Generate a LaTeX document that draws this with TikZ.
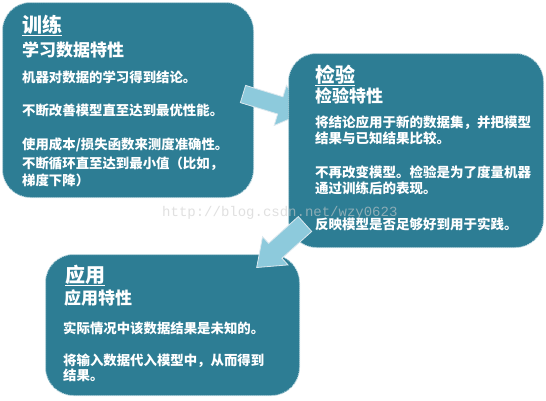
\documentclass[tikz,border=0pt]{standalone}
\usepackage{fontspec}
\newfontfamily\cjk{Noto Sans CJK SC}
\newfontfamily\wmfont{Liberation Mono}
\definecolor{boxfill}{RGB}{45,125,148}
\definecolor{boxedge}{RGB}{185,214,222}
\definecolor{arrowfill}{RGB}{141,202,220}
\definecolor{arrowedge}{RGB}{220,232,238}
\begin{document}
\begin{tikzpicture}[x=1pt,y=-1pt,
  panel/.style={fill=boxfill, draw=boxedge, densely dotted, line width=1pt, rounded corners=28pt, anchor=north west, inner sep=0pt},
  blockarrow/.style={fill=arrowfill, draw=arrowedge, line width=0.8pt, line join=miter},
  ttl/.style={anchor=base west, text=white, inner sep=0pt, font=\cjk\bfseries\fontsize{20}{24}\selectfont},
  sub/.style={anchor=base west, text=white, inner sep=0pt, font=\cjk\bfseries\fontsize{17}{20}\selectfont},
  body/.style={anchor=base west, text=white, inner sep=0pt, font=\cjk\bfseries\fontsize{13.4}{16}\selectfont},
  bodyb/.style={anchor=base west, text=white, inner sep=0pt, font=\cjk\bfseries\fontsize{13.5}{16}\selectfont},
  uline/.style={draw=white, line width=1.3pt},
  wm/.style={anchor=base west, inner sep=0pt, text=gray!40, text opacity=0.6, font=\wmfont\fontsize{14}{16}\selectfont}]
\useasboundingbox (0,0) rectangle (546,400);
\fill[white] (0,0) rectangle (546,400);

% box 1
\node[panel, minimum width=251pt, minimum height=195pt] (train) at (2,2) {};
% arrow 1 (above box 1, below box 2)
\begin{scope}[shift={(243,94)}, rotate=-17]
  \draw[blockarrow] (0,-9) -- (39,-9) -- (39,-21) -- (64,0) -- (39,21) -- (39,9) -- (0,9) -- cycle;
\end{scope}
% box 2
\node[panel, minimum width=255pt, minimum height=194pt] (test) at (288,53) {};
% box 3
\node[panel, minimum width=254pt, minimum height=141pt] (apply) at (45,254) {};
% arrow 2
\begin{scope}[shift={(305,224)}, rotate=222]
  \draw[blockarrow] (0,-10) -- (40,-10) -- (40,-19) -- (65,0) -- (40,19) -- (40,10) -- (0,10) -- cycle;
\end{scope}

% watermark
\node[wm] (wmark) at (162,216) {http://blog.csdn.net/wzy0623};

% texts box 1
\node[ttl] (t1) at (22,32) {训练};
\draw[uline] ([yshift=-3.5pt]t1.base west) -- ([yshift=-3.5pt]t1.base east);
\node[sub] (s1) at (22,56) {学习数据特性};
\node[body] (b11) at (22,82) {机器对数据的学习得到结论。};
\node[body] (b12) at (22,115) {不断改善模型直至达到最优性能。};
\node[body] (b13) at (22,149) {使用成本/损失函数来测度准确性。};
\node[body] (b14) at (22,168) {不断循环直至达到最小值（比如，};
\node[body] (b15) at (22,185) {梯度下降）};

% texts box 2
\node[ttl] (t2) at (315,82) {检验};
\draw[uline] ([yshift=-3.5pt]t2.base west) -- ([yshift=-3.5pt]t2.base east);
\node[sub] (s2) at (315,102) {检验特性};
\node[bodyb] (b21) at (315,127) {将结论应用于新的数据集，并把模型};
\node[bodyb] (b22) at (315,143) {结果与已知结果比较。};
\node[bodyb] (b23) at (315,177) {不再改变模型。检验是为了度量机器};
\node[bodyb] (b24) at (315,193) {通过训练后的表现。};
\node[bodyb] (b25) at (315,229) {反映模型是否足够好到用于实践。};

% texts box 3
\node[ttl] (t3) at (65,282) {应用};
\draw[uline] ([yshift=-3.5pt]t3.base west) -- ([yshift=-3.5pt]t3.base east);
\node[sub] (s3) at (64,304) {应用特性};
\node[body] (b31) at (63,333) {实际情况中该数据结果是未知的。};
\node[body] (b32) at (63,365) {将输入数据代入模型中，从而得到};
\node[body] (b33) at (63,380) {结果。};
\end{tikzpicture}
\end{document}
